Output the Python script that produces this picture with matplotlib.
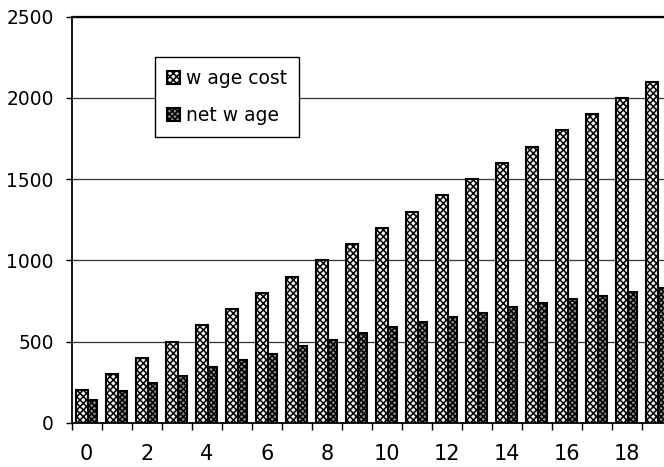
import matplotlib
matplotlib.use("Agg")
import matplotlib.pyplot as plt
import numpy as np

# years / steps on the x axis
steps = list(range(20))
wage_cost = [200, 300, 400, 500, 600, 700, 800, 900, 1000, 1100,
             1200, 1300, 1400, 1500, 1600, 1700, 1800, 1900, 2000, 2100]
net_wage = [140, 195, 245, 290, 345, 388, 425, 470, 510, 553,
            590, 618, 650, 677, 712, 740, 760, 783, 805, 828]
labels = ["w age cost", "net w age"]

plt.rcParams["font.family"] = ["DejaVu Sans"]
plt.rcParams["hatch.linewidth"] = 1.1

fig = plt.figure(figsize=(6.64, 4.67), dpi=100)
# right edge goes past the image on purpose, the original scan is cut there
ax = fig.add_axes([71.7 / 664, 44.3 / 467, 600 / 664, 406 / 467])

x = np.array(steps)
ax.bar(x - 0.35, wage_cost, width=0.4, align="edge", color="#f2f2f2",
       edgecolor="black", linewidth=1.5, hatch="xxxxx", label=labels[0], zorder=3)
ax.bar(x + 0.05, net_wage, width=0.3, align="edge", color="#8c8c8c",
       edgecolor="black", linewidth=1.5, hatch="xxxxxx", label=labels[1], zorder=3)

ax.set_xlim(-0.5, 19.5)
ax.set_ylim(0, 2500)
ax.set_yticks(range(0, 2501, 500))
ax.set_xticks(range(0, 20, 2))
ax.set_xticks(np.arange(-0.5, 20, 1), minor=True)
ax.tick_params(axis="x", which="major", length=0, pad=15, labelsize=15)
ax.tick_params(axis="x", which="minor", length=5, width=1, direction="out")
ax.tick_params(axis="y", length=4, width=1, direction="out", pad=9, labelsize=13.4)

ax.grid(axis="y", color="#333333", linewidth=0.9, zorder=0)
for side in ["left", "bottom"]:
    ax.spines[side].set_linewidth(1.3)
ax.spines["top"].set_linewidth(1.6)
ax.spines["right"].set_visible(False)

leg = ax.legend(loc="upper left", bbox_to_anchor=(155 / 664, 1 - 57 / 467),
                bbox_transform=fig.transFigure, borderaxespad=0,
                fancybox=False, framealpha=1, edgecolor="black",
                fontsize=13.5, handlelength=0.7, handleheight=0.7,
                handletextpad=0.3, labelspacing=0.95, borderpad=0.65)
leg.get_frame().set_linewidth(1.0)

plt.savefig("out.png", dpi=100)
plt.close(fig)
